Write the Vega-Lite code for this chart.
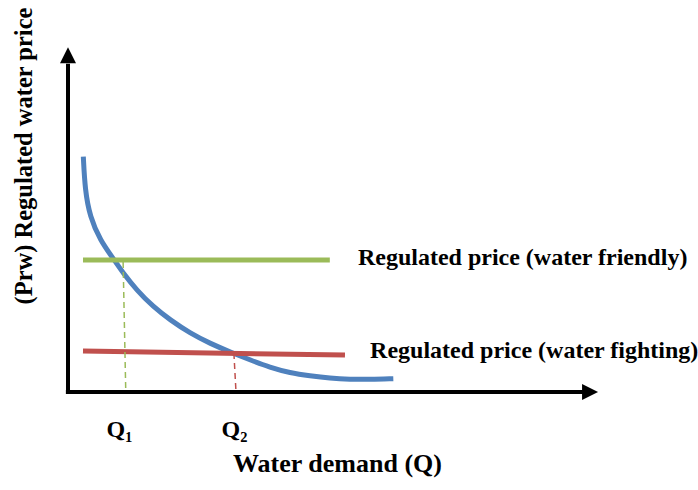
{
  "$schema": "https://vega.github.io/schema/vega-lite/v6.json",
  "width": 530,
  "height": 342,
  "autosize": {"type": "none"},
  "padding": {"left": 68, "top": 50, "right": 100, "bottom": 98},
  "background": "white",
  "config": {"view": {"stroke": null}},
  "layer": [
    {
      "data": {"values": [
        {"q": 0.289, "p": 6.88}, {"q": 0.321, "p": 5.91}, {"q": 0.415, "p": 5.12},
        {"q": 0.604, "p": 4.44}, {"q": 0.887, "p": 3.83}, {"q": 1.043, "p": 3.47},
        {"q": 1.296, "p": 2.98}, {"q": 1.609, "p": 2.49}, {"q": 1.925, "p": 2.11},
        {"q": 2.302, "p": 1.72}, {"q": 2.679, "p": 1.42}, {"q": 3.119, "p": 1.13},
        {"q": 3.434, "p": 0.94}, {"q": 3.811, "p": 0.72}, {"q": 4.189, "p": 0.56},
        {"q": 4.566, "p": 0.47}, {"q": 4.943, "p": 0.40}, {"q": 5.321, "p": 0.37},
        {"q": 5.698, "p": 0.37}, {"q": 6.138, "p": 0.39}
      ]},
      "mark": {"type": "line", "interpolate": "basis", "strokeWidth": 5, "color": "#4F81BD"},
      "encoding": {
        "x": {"field": "q", "type": "quantitative", "scale": {"domain": [0, 10], "nice": false, "zero": false}, "axis": null},
        "y": {"field": "p", "type": "quantitative", "scale": {"domain": [0, 10], "nice": false, "zero": false}, "axis": null}
      }
    },
    {
      "data": {"values": [
        {"name": "friendly", "q": 0.283, "p": 3.86, "q2": 4.94, "p2": 3.86},
        {"name": "fighting", "q": 0.283, "p": 1.20, "q2": 5.226, "p2": 1.08}
      ]},
      "mark": {"type": "rule", "strokeWidth": 5},
      "encoding": {
        "x": {"field": "q", "type": "quantitative"},
        "x2": {"field": "q2"},
        "y": {"field": "p", "type": "quantitative"},
        "y2": {"field": "p2"},
        "color": {"field": "name", "type": "nominal", "scale": {"domain": ["friendly", "fighting"], "range": ["#9BBB59", "#C0504D"]}, "legend": null}
      }
    },
    {
      "data": {"values": [
        {"name": "friendly", "q": 1.04, "p": 3.80, "q2": 1.09, "p2": 0},
        {"name": "fighting", "q": 3.13, "p": 1.14, "q2": 3.17, "p2": 0}
      ]},
      "mark": {"type": "rule", "strokeWidth": 1.5, "strokeDash": [6, 4]},
      "encoding": {
        "x": {"field": "q", "type": "quantitative"},
        "x2": {"field": "q2"},
        "y": {"field": "p", "type": "quantitative"},
        "y2": {"field": "p2"},
        "color": {"field": "name", "type": "nominal", "legend": null}
      }
    },
    {
      "data": {"values": [
        {"q": 0, "p": -0.06, "q2": 0, "p2": 9.6},
        {"q": -0.04, "p": 0, "q2": 9.75, "p2": 0}
      ]},
      "mark": {"type": "rule", "strokeWidth": 4, "color": "black"},
      "encoding": {
        "x": {"field": "q", "type": "quantitative"},
        "x2": {"field": "q2"},
        "y": {"field": "p", "type": "quantitative"},
        "y2": {"field": "p2"}
      }
    },
    {
      "data": {"values": [
        {"q": 0, "p": 9.85, "dir": "up"},
        {"q": 9.85, "p": 0, "dir": "right"}
      ]},
      "mark": {"type": "point", "filled": true, "opacity": 1, "size": 256, "color": "black", "strokeWidth": 0},
      "encoding": {
        "x": {"field": "q", "type": "quantitative"},
        "y": {"field": "p", "type": "quantitative"},
        "shape": {"field": "dir", "type": "nominal", "scale": {"domain": ["up", "right"], "range": ["M-1,1L1,1L0,-1Z", "M-1,-1L-1,1L1,0Z"]}, "legend": null}
      }
    },
    {
      "data": {"values": [
        {"label": "Regulated price (water friendly)", "q": 5.47, "p": 3.71},
        {"label": "Regulated price (water fighting)", "q": 5.70, "p": 0.994}
      ]},
      "mark": {"type": "text", "align": "left", "baseline": "alphabetic", "font": "Liberation Serif", "fontWeight": "bold", "fontSize": 24, "color": "black"},
      "encoding": {
        "x": {"field": "q", "type": "quantitative"},
        "y": {"field": "p", "type": "quantitative"},
        "text": {"field": "label"}
      }
    },
    {
      "data": {"values": [
        {"label": "Q₁", "q": 0.972, "p": -1.316},
        {"label": "Q₂", "q": 3.142, "p": -1.316}
      ]},
      "mark": {"type": "text", "align": "center", "baseline": "alphabetic", "font": "Liberation Serif", "fontWeight": "bold", "fontSize": 24, "color": "black"},
      "encoding": {
        "x": {"field": "q", "type": "quantitative"},
        "y": {"field": "p", "type": "quantitative"},
        "text": {"field": "label"}
      }
    },
    {
      "data": {"values": [
        {"label": "Water demand (Q)", "q": 5.085, "p": -2.339}
      ]},
      "mark": {"type": "text", "align": "center", "baseline": "alphabetic", "font": "Liberation Serif", "fontWeight": "bold", "fontSize": 26, "color": "black"},
      "encoding": {
        "x": {"field": "q", "type": "quantitative"},
        "y": {"field": "p", "type": "quantitative"},
        "text": {"field": "label"}
      }
    },
    {
      "data": {"values": [
        {"label": "(Prw) Regulated water price", "q": -0.811, "p": 6.90}
      ]},
      "mark": {"type": "text", "align": "center", "baseline": "middle", "angle": 270, "font": "Liberation Serif", "fontWeight": "bold", "fontSize": 24.5, "color": "black"},
      "encoding": {
        "x": {"field": "q", "type": "quantitative"},
        "y": {"field": "p", "type": "quantitative"},
        "text": {"field": "label"}
      }
    }
  ]
}
